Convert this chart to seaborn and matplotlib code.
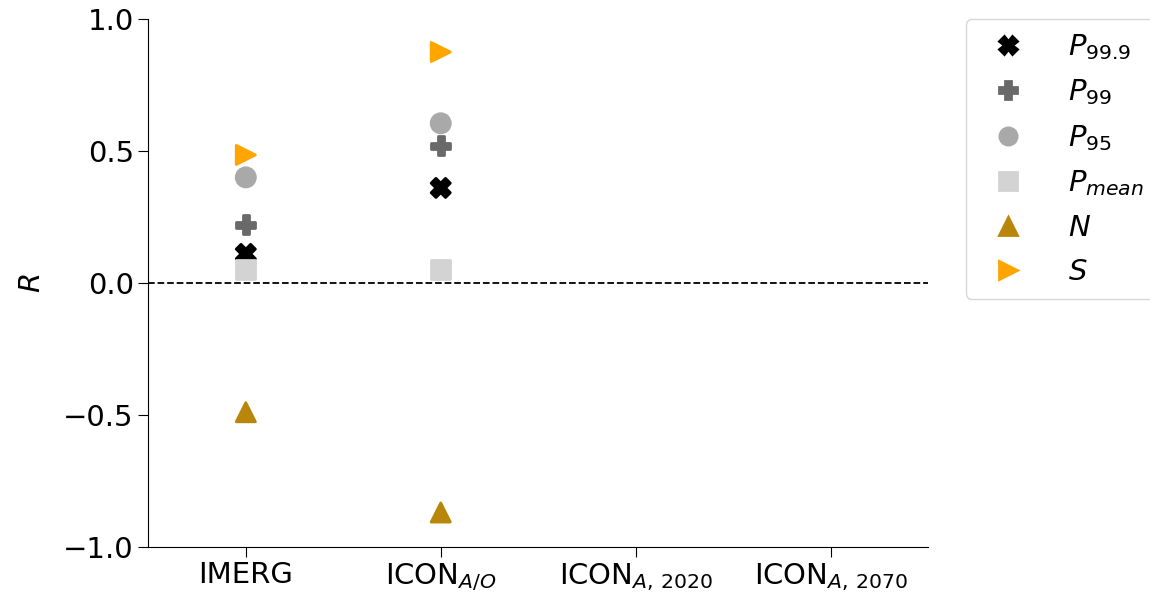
import numpy as np
import pandas as pd
import matplotlib
matplotlib.use("Agg")
import matplotlib.pyplot as plt
import seaborn as sns

# Correlation coefficients per data set and metric
datasets = ["IMERG", "ICON_AO", "ICON_A2020", "ICON_A2070"]
tick_labels = ["IMERG", r"ICON$_{A/O}$", r"ICON$_{A,\,2020}$", r"ICON$_{A,\,2070}$"]
metrics = [r"$P_{99.9}$", r"$P_{99}$", r"$P_{95}$", r"$P_{mean}$", r"$N$", r"$S$"]

r_p999 = [0.11, 0.36, np.nan, np.nan]
r_p99 = [0.22, 0.52, np.nan, np.nan]
r_p95 = [0.40, 0.605, np.nan, np.nan]
r_pmean = [0.05, 0.05, np.nan, np.nan]
r_n = [-0.49, -0.87, np.nan, np.nan]
r_s = [0.485, 0.875, np.nan, np.nan]

series = [r_p999, r_p99, r_p95, r_pmean, r_n, r_s]
colors = ["black", "dimgray", "darkgray", "lightgray", "darkgoldenrod", "orange"]
marker_styles = ["X", "P", "o", "s", "^", ">"]

rows = []
for m, vals in zip(metrics, series):
    for i, v in enumerate(vals):
        rows.append({"pos": i, "metric": m, "R": v})
df = pd.DataFrame(rows)

sns.set_style("ticks")
plt.rcParams["font.family"] = ["DejaVu Sans"]
plt.rcParams["font.size"] = 21
for key in ["text.color", "axes.labelcolor", "xtick.color", "ytick.color", "axes.edgecolor"]:
    plt.rcParams[key] = "black"

fig, ax = plt.subplots(figsize=(11.5, 5.95), dpi=100)
fig.subplots_adjust(left=0.129, right=0.807, top=0.968, bottom=0.081)

ax.axhline(0, color="black", ls="--", lw=1.3, zorder=1)

sns.scatterplot(
    data=df, x="pos", y="R", hue="metric", style="metric",
    hue_order=metrics, style_order=metrics,
    palette=dict(zip(metrics, colors)),
    markers=dict(zip(metrics, marker_styles)),
    s=190, linewidth=2, edgecolor="face", ax=ax, zorder=3,
)

ax.set_xlim(-0.5, 3.5)
ax.set_ylim(-1.0, 1.0)
ax.set_xticks(range(len(datasets)))
ax.set_xticklabels(tick_labels, fontsize=21)
ax.set_yticks([-1.0, -0.5, 0.0, 0.5, 1.0])
ax.tick_params(labelsize=21, length=7, color="black")
ax.set_xlabel("")
ax.set_ylabel(r"$R$", fontsize=21, labelpad=12)
sns.despine(ax=ax)

leg = ax.legend(loc="upper left", bbox_to_anchor=(1.03, 1.028), fontsize=21,
                frameon=True, markerscale=0.9, handletextpad=1.03,
                borderpad=0.45, labelspacing=0.54)
leg.get_frame().set_edgecolor("#cccccc")
for h in leg.legend_handles:
    h.set_markeredgecolor(h.get_markerfacecolor())
    h.set_markeredgewidth(2)

fig.savefig("out.png", dpi=100)
